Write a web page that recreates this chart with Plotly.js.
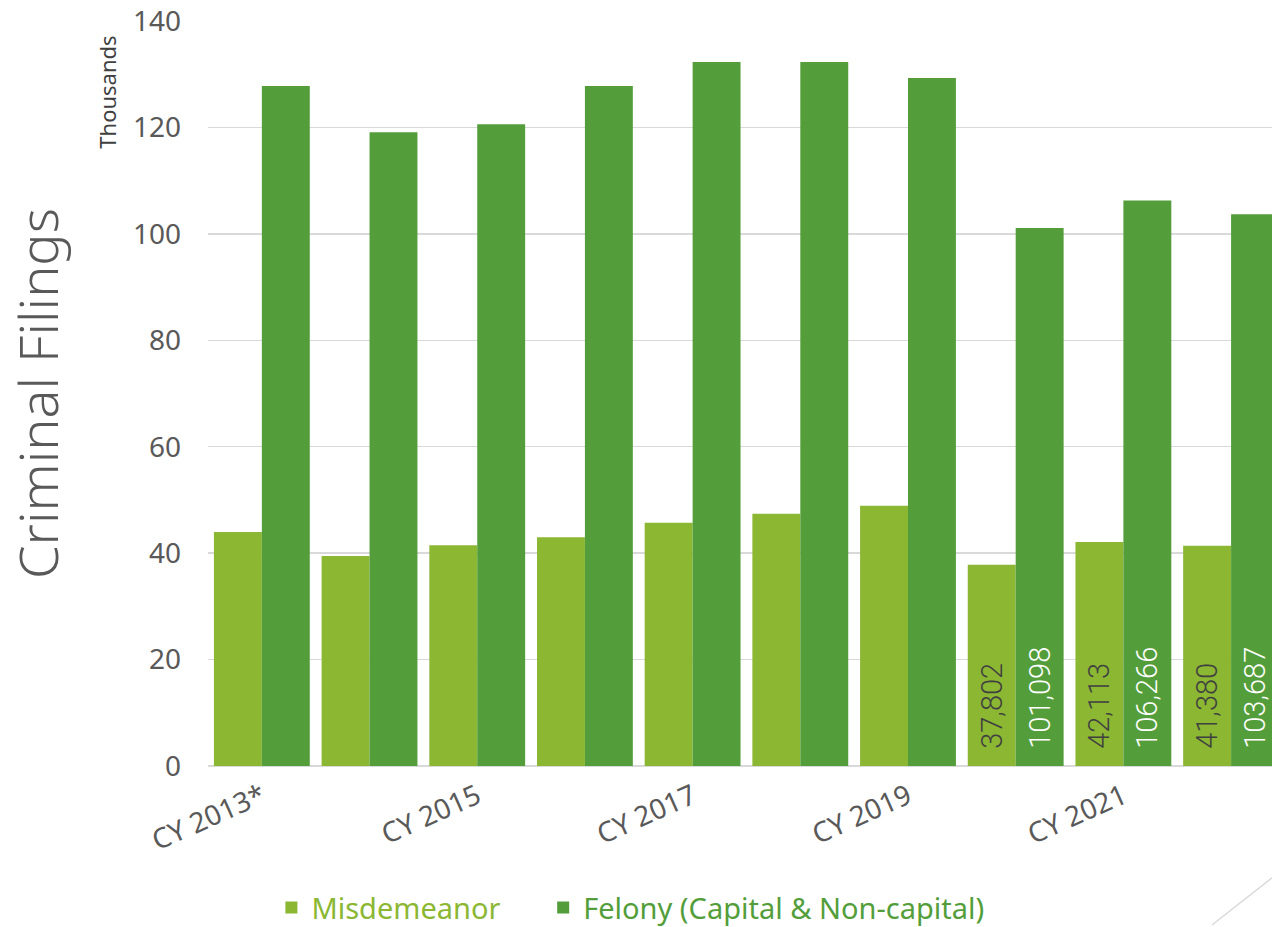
<!DOCTYPE html>
<html>
<head>
<meta charset="utf-8">
<script src="https://cdn.plot.ly/plotly-3.0.1.min.js"></script>
<style>html,body{margin:0;padding:0;background:#fff;}#chart{width:1272px;height:927px;}</style>
</head>
<body>
<div id="chart"></div>
<script>
// ---- data ----
const categories = ["CY 2013*", "CY 2014", "CY 2015", "CY 2016", "CY 2017", "CY 2018", "CY 2019", "CY 2020", "CY 2021", "CY 2022"];
const misdemeanor = [43970, 39460, 41500, 43000, 45700, 47400, 48900, 37802, 42113, 41380];
const felony = [127800, 119100, 120600, 127800, 132300, 132300, 129300, 101098, 106266, 103687];
const labelledYears = ["CY 2020", "CY 2021", "CY 2022"];
const tickCategories = ["CY 2013*", "CY 2015", "CY 2017", "CY 2019", "CY 2021"];
const seriesNames = ["Misdemeanor", "Felony (Capital &amp; Non-capital)"];

const lightGreen = "#8BB733";
const darkGreen = "#539E3A";
const grey = "#595959";

function toK(arr) { return arr.map(v => v / 1000); }
function labels(arr) {
  return arr.map((v, i) => labelledYears.includes(categories[i]) ? "\u00A0\u00A0" + v.toLocaleString("en-US") : "");
}

const traces = [
  {
    type: "bar", x: categories, y: toK(misdemeanor),
    name: '<span style="color:' + lightGreen + '">' + seriesNames[0] + '</span>\u00A0\u00A0\u00A0\u00A0\u00A0',
    marker: {color: lightGreen},
    text: labels(misdemeanor), textposition: "inside", insidetextanchor: "start", textangle: -90,
    textfont: {family: "Roboto", size: 29, color: "#404040", weight: 300},
    hoverinfo: "skip"
  },
  {
    type: "bar", x: categories, y: toK(felony),
    name: '<span style="color:' + darkGreen + '">' + seriesNames[1] + '</span>',
    marker: {color: darkGreen},
    text: labels(felony), textposition: "inside", insidetextanchor: "start", textangle: -90,
    textfont: {family: "Roboto", size: 29, color: "#FFFFFF", weight: 300},
    hoverinfo: "skip"
  }
];

const layout = {
  width: 1272, height: 927,
  margin: {l: 208, r: 0, t: 21, b: 161, pad: 0, autoexpand: false},
  paper_bgcolor: "#FFFFFF", plot_bgcolor: "#FFFFFF",
  barmode: "group", bargap: 0.11, bargroupgap: 0,
  font: {family: "Noto Sans", color: grey},
  xaxis: {
    type: "category", categoryorder: "array", categoryarray: categories,
    range: [-0.5, 9.38], automargin: false,
    tickmode: "array", tickvals: tickCategories, ticktext: tickCategories,
    tickangle: -24, tickfont: {family: "Noto Sans", size: 28, color: grey},
    ticklabelstandoff: 8,
    showgrid: false, showline: false, zeroline: false, ticks: ""
  },
  yaxis: {
    range: [0, 140], dtick: 20, tick0: 0, automargin: false,
    tickfont: {family: "Noto Sans", size: 28, color: grey},
    ticklabelstandoff: 26,
    showgrid: true, gridcolor: "#D9D9D9", gridwidth: 1.5,
    zeroline: true, zerolinecolor: "#D9D9D9", zerolinewidth: 2.5,
    showline: false, ticks: "", ticklen: 0,
    title: {text: "Criminal Filings", font: {family: "Noto Sans", size: 54, color: grey, weight: 300}, standoff: 62}
  },
  showlegend: true,
  legend: {
    orientation: "h", x: 0.397, xanchor: "center", y: -0.19, yanchor: "middle",
    font: {family: "Noto Sans", size: 29, color: grey},
    itemsizing: "constant", traceorder: "normal", itemwidth: 30
  },
  annotations: [
    {
      text: "Thousands", xref: "paper", yref: "paper", x: -0.095, y: 0.905,
      xanchor: "center", yanchor: "middle", showarrow: false, textangle: -90,
      font: {family: "Noto Sans", size: 22, color: "#404040"}
    }
  ],
  shapes: [
    {type: "line", xref: "paper", yref: "paper", x0: 0.9436, y0: -0.2134, x1: 1.0, y1: -0.150,
     line: {color: "#D9D9D9", width: 1.5}}
  ]
};

Plotly.newPlot("chart", traces, layout, {displayModeBar: false, staticPlot: true});
</script>
</body>
</html>
